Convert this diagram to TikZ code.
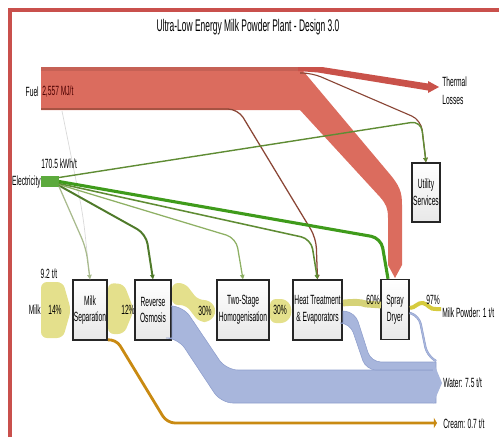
\documentclass[tikz,border=0pt]{standalone}
\usepackage{fontspec}
\newfontfamily\condfont[FakeStretch=0.5]{Liberation Sans}
\usetikzlibrary{positioning, arrows.meta, calc}
\definecolor{fuelred}{HTML}{DB6C5E}
\definecolor{lossred}{HTML}{C9524A}
\definecolor{framered}{HTML}{C9504C}
\definecolor{fuelbrown}{HTML}{8A4636}
\definecolor{milkyellow}{HTML}{E4E08C}
\definecolor{powderyellow}{HTML}{D6CB3E}
\definecolor{waterblue}{HTML}{A8B6DC}
\definecolor{wateredge}{HTML}{8E9ECC}
\definecolor{creamorange}{HTML}{C98A12}
\definecolor{elecgreen}{HTML}{3F9B1B}
\definecolor{elecmid}{HTML}{5F8C34}
\definecolor{eleclight}{HTML}{8EB064}
\definecolor{elecpale}{HTML}{A9BB8E}
\definecolor{elecdark}{HTML}{4F7A2A}

\begin{document}
\begin{tikzpicture}[x=0.25mm, y=-0.25mm,
                process/.style={draw=black!85, line width=1pt, top color=white, bottom color=gray!18, minimum height=15mm, inner sep=0pt, align=center, font=\condfont\fontsize{9.5}{12}\selectfont},
                varlabel/.style={font=\condfont\fontsize{9.5}{11}\selectfont, inner sep=0pt},
                edge/.style={-{Triangle[length=1.1mm, width=1.1mm]}, rounded corners=2.5mm},
                band/.style={rounded corners=1.5mm}
            ]
            \useasboundingbox (0,0) rectangle (499,437);
            \draw[framered, line width=1mm] (9.5,437) -- (9.5,10) -- (499,10);

            % Knoten
            \node[process, minimum width=8.5mm] (sep) at (90,310) {Milk\\Separation};
            \node[process, minimum width=9mm] (ro) at (153,310) {Reverse\\Osmosis};
            \node[process, minimum width=13mm] (homog) at (243,310) {Two-Stage\\Homogenisation};
            \node[process, minimum width=12.25mm] (heat) at (317.5,310) {Heat Treatment\\\& Evaporators};
            \node[process, minimum width=7mm] (spray) at (395,309.5) {Spray\\Dryer};
            \node[process, minimum width=7mm, minimum height=14.75mm] (util) at (426,192.5) {Utility\\Services};
            \coordinate (elec) at (59,181.5);

            % Wasser und Rahm
            \fill[waterblue, draw=wateredge, line width=0.4pt] (172,306) [rounded corners=3mm] -- (183,306) -- (226,370) [sharp corners] -- (436,370) -- (436,403) [rounded corners=3mm] -- (221,403) -- (178,338) [sharp corners] -- (172,338) -- cycle;
            \fill[waterblue, draw=wateredge, line width=0.4pt] (343,311) [rounded corners=2.5mm] -- (355,312) -- (371,362) [sharp corners] -- (436,362) -- (436,370) [rounded corners=2.5mm] -- (366,370) -- (350,323) [sharp corners] -- (343,323) -- cycle;
            \draw[draw=wateredge, double=waterblue, double distance=0.9pt, line width=0.35pt, rounded corners=2mm] (spray.east |- 0,313) -- (419,316) -- (427,355) -- (436,361);
            \fill[waterblue] (433,361.5) -- (442,383) -- (433,404) -- cycle;
            \draw[creamorange, line width=2pt, rounded corners=2mm, -{Triangle[length=0.8mm, width=2.6mm]}] (sep.south east) ++(2,-1) -- (116,339) -- (167,423) -- (437,423);

            % Milchstrom
            \fill[milkyellow, band] (41,282) -- (63,282) -- (71,310) -- (63,338) -- (41,338) -- cycle;
            \fill[milkyellow, band] (108,283) -- (124,284) -- (134,310) -- (124,334) -- (108,334) -- cycle;
            \fill[milkyellow, band] (172,283) -- (185,283) -- (198,300) -- (210,300) -- (217,311) -- (210,322) -- (199,322) -- (186,305) -- (172,305) -- cycle;
            \fill[milkyellow, band] (270,299) -- (287,299) -- (293,311) -- (287,323) -- (270,323) -- cycle;
            \draw[milkyellow!85!olive, line width=1.7mm] (343,303) .. controls (355,302) and (360,302) .. (366,304) -- (381,305);
            \draw[powderyellow, line width=1mm] (410,308) .. controls (415,308) and (418,302) .. (423,303) .. controls (428,304) and (430,310) .. (436,309) -- (441,309);

            % Brennstoff
            \fill[fuelred] (41,67) -- (300,67) -- (304,72) -- (388,172) .. controls (400,186) and (402,192) .. (402,205) -- (402,265) -- (395,278) -- (388,265) -- (388,218) .. controls (388,208) and (386,204) .. (380,197) -- (300,110) -- (41,110) -- cycle;
            \fill[fuelred!90!black] (41,67) -- (300,67) -- (300,71) -- (41,71) -- cycle;
            \fill[lossred] (298,67) -- (322,67) -- (428,83.5) -- (428,81) -- (439,87) -- (428,93) -- (428,90.5) -- (318,72.5) -- (298,71) -- cycle;
            \draw[gray!30, line width=0.5pt, rounded corners=4mm] (62,111) -- (83,215) -- (sep.north);
            \draw[fuelbrown, line width=0.9pt, edge] (41,109) -- (238,109) -- (316,238) -- (heat.north);
            \draw[fuelbrown, line width=0.8pt, edge] (300,73) -- (312,73) -- (421,120) -- (util.north);

            % Strom
            \fill[elecgreen!85] (41,176) rectangle (elec |- 0,187);
            \draw[elecmid, line width=1pt, edge] ($(elec)+(0,-4)$) -- (421,121) -- (util.north);
            \draw[elecdark, line width=1.4pt, edge] ($(elec)+(0,4)$) -- (146,234) -- (ro.north);
            \draw[elecpale, line width=0.9pt, edge] ($(elec)+(0,5)$) -- (86,248) -- (sep.north);
            \draw[eleclight, line width=0.9pt, edge] ($(elec)+(0,3)$) -- (236,238) -- (homog.north);
            \draw[elecmid, line width=1.1pt, edge] ($(elec)+(0,2)$) -- (311,239) -- (heat.north);
            \draw[elecgreen, line width=2.2pt, rounded corners=2.5mm] (elec) -- (381,238) -- ($(spray.north)+(-7,0)$);

            % Beschriftungen
            \node[font=\condfont\fontsize{12}{14}\selectfont] (title) at (248,27) {Ultra-Low Energy Milk Powder Plant - Design 3.0};
            \node[varlabel, anchor=east] (fuel) at (39,92) {Fuel};
            \node[varlabel, anchor=west, text=black!70!red] (fuelval) at (42,92) {2,557 MJ/t};
            \node[varlabel, anchor=west, align=left, font=\condfont\fontsize{9.5}{12.5}\selectfont] (losses) at (442,91) {Thermal\\Losses};
            \node[varlabel, anchor=east] (elecname) at (41,182) {Electricity};
            \node[varlabel, anchor=west] (elecval) at (41,164) {170.5 kWh/t};
            \node[varlabel] (milkval) at (49,274) {9.2 t/t};
            \node[varlabel, anchor=east] (milk) at (41,310) {Milk};
            \node[varlabel] (p14) at (55,310) {14\%};
            \node[varlabel] (p12) at (128,310) {12\%};
            \node[varlabel] (p30a) at (205,311) {30\%};
            \node[varlabel] (p30b) at (280,310) {30\%};
            \node[varlabel] (p60) at (373,300) {60\%};
            \node[varlabel] (p97) at (433,300) {97\%};
            \node[varlabel, anchor=west] (powder) at (442,313) {Milk Powder: 1 t/t};
            \node[varlabel, anchor=west] (water) at (443,383) {Water: 7.5 t/t};
            \node[varlabel, anchor=west] (cream) at (443,424) {Cream: 0.7 t/t};

        \end{tikzpicture}
\end{document}
